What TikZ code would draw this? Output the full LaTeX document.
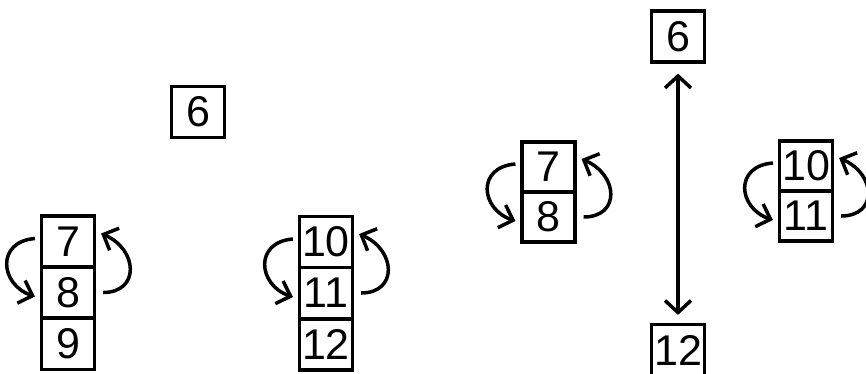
\documentclass[tikz,border=0pt]{standalone}
\usepackage{fontspec}
\setmainfont{Liberation Sans}
\usetikzlibrary{arrows.meta,calc}
\tikzset{
  numbox/.style={draw=black, line width=3.2pt, minimum width=53pt, minimum height=51pt,
    inner sep=0pt, font=\fontsize{43}{48}\selectfont, text=black},
  barb/.style={line width=3.5pt, -{Straight Barb[length=12pt,width=24pt,line width=3.5pt]}},
  dbarb/.style={line width=3.5pt, {Straight Barb[length=12pt,width=26pt,line width=3.5pt]}-{Straight Barb[length=12pt,width=26pt,line width=3.5pt]}}
}
\newcommand\looppair[2]{%
  \draw[barb] ([shift={(-5,-3)}]#1.west) .. controls ([shift={(-44,0)}]#1.west) and ([shift={(-40,-8)}]#2.west) .. ([shift={(-5,4)}]#2.west);
  \draw[barb] ([shift={(7,0)}]#2.east) .. controls ([shift={(44,0)}]#2.east) and ([shift={(42,8)}]#1.east) .. ([shift={(5,-8)}]#1.east);
}
\begin{document}
\begin{tikzpicture}[x=1pt,y=-1pt]
\useasboundingbox (0,0) rectangle (866,373);
% left figure
\node[numbox] (s6) at (198,112) {6};
\node[numbox] (a7) at (68,241.5) {7};
\node[numbox] (a8) at (68,292.5) {8};
\node[numbox] (a9) at (68,344) {9};
\node[numbox] (b10) at (326,242) {10};
\node[numbox] (b11) at (326,293) {11};
\node[numbox] (b12) at (326,344.5) {12};
\looppair{a7}{a8}
\looppair{b10}{b11}
% right figure
\node[numbox] (r6) at (678,36.5) {6};
\node[numbox] (r12) at (678,350) {12};
\node[numbox, minimum height=50pt] (c7) at (548.5,167) {7};
\node[numbox, minimum height=50pt] (c8) at (548.5,217) {8};
\node[numbox, minimum height=50pt] (d10) at (806,166) {10};
\node[numbox, minimum height=50pt] (d11) at (806,216) {11};
\looppair{c7}{c8}
\looppair{d10}{d11}
\draw[dbarb] ([yshift=-10pt]r6.south) -- ([yshift=8pt]r12.north);
\end{tikzpicture}
\end{document}
